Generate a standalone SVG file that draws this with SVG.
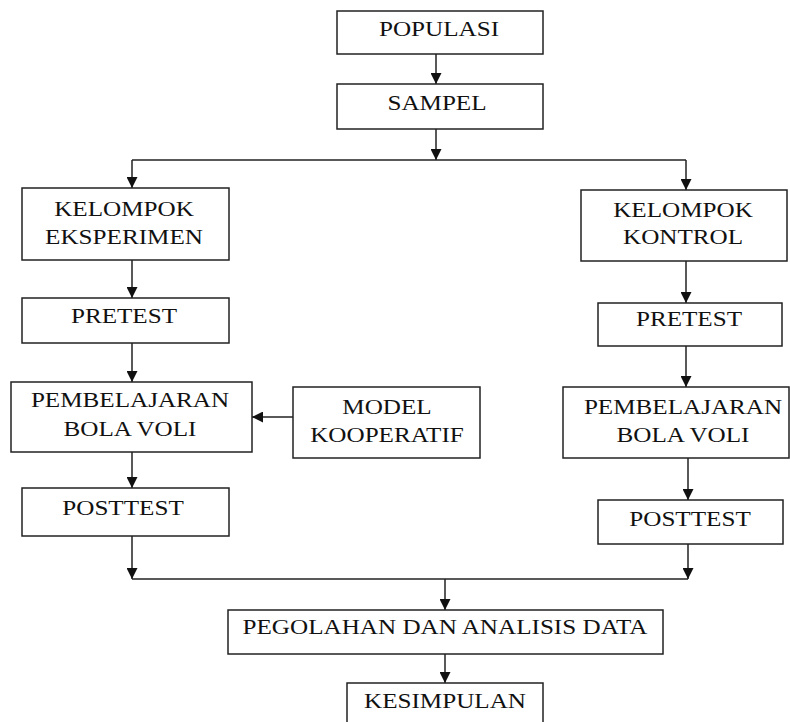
<svg xmlns="http://www.w3.org/2000/svg" width="790" height="722" viewBox="0 0 790 722">
<defs>
<marker id="ah" markerUnits="userSpaceOnUse" markerWidth="11" markerHeight="11" viewBox="0 0 10 10" refX="10" refY="5" orient="auto">
<path d="M0,0 L10,5 L0,10 z" fill="#111"/>
</marker>
<style>
.box{fill:#fff;stroke:#222;stroke-width:1.5}
.t{font-family:"Liberation Serif","Times New Roman",serif;font-size:21.5px;fill:#111;text-anchor:middle}
.c{fill:none;stroke:#222;stroke-width:1.5}
.a{fill:none;stroke:#222;stroke-width:1.5;marker-end:url(#ah)}
</style>
</defs>
<rect width="790" height="722" fill="#fff"/>
<g id="connectors">
<path class="a" d="M436 54 V84"/>
<path class="a" d="M436 129 V160"/>
<path class="c" d="M132 160 H686"/>
<path class="a" d="M132 160 V188"/>
<path class="a" d="M686 160 V190"/>
<path class="a" d="M132 260 V298"/>
<path class="a" d="M132 343 V382"/>
<path class="a" d="M293 417 H252"/>
<path class="a" d="M132 452 V488"/>
<path class="a" d="M132 536 V579"/>
<path class="a" d="M686 261 V303"/>
<path class="a" d="M686 346 V387"/>
<path class="a" d="M688 458 V500"/>
<path class="a" d="M688 544 V579"/>
<path class="c" d="M132 579 H688"/>
<path class="a" d="M445 579 V610"/>
<path class="a" d="M445 654 V683"/>
</g>
<g id="populasi">
<rect class="box" x="337" y="11" width="206" height="43"/>
<text class="t" transform="translate(439 36) scale(1.17 1)">POPULASI</text>
</g>
<g id="sampel">
<rect class="box" x="337" y="84" width="206" height="45"/>
<text class="t" transform="translate(437 110) scale(1.17 1)">SAMPEL</text>
</g>
<g id="kelompok-eksperimen">
<rect class="box" x="22" y="188" width="207" height="72"/>
<text class="t" transform="translate(124 216) scale(1.17 1)">KELOMPOK</text>
<text class="t" transform="translate(124 244) scale(1.17 1)">EKSPERIMEN</text>
</g>
<g id="pretest-eksperimen">
<rect class="box" x="22" y="298" width="207" height="45"/>
<text class="t" transform="translate(124 323) scale(1.17 1)">PRETEST</text>
</g>
<g id="pembelajaran-eksperimen">
<rect class="box" x="11" y="382" width="241" height="70"/>
<text class="t" transform="translate(130 407) scale(1.17 1)">PEMBELAJARAN</text>
<text class="t" transform="translate(130 436) scale(1.17 1)">BOLA VOLI</text>
</g>
<g id="model-kooperatif">
<rect class="box" x="293" y="387" width="187" height="71"/>
<text class="t" transform="translate(387 414) scale(1.17 1)">MODEL</text>
<text class="t" transform="translate(387 442) scale(1.17 1)">KOOPERATIF</text>
</g>
<g id="posttest-eksperimen">
<rect class="box" x="22" y="488" width="207" height="48"/>
<text class="t" transform="translate(123 515) scale(1.17 1)">POSTTEST</text>
</g>
<g id="kelompok-kontrol">
<rect class="box" x="581" y="190" width="206" height="71"/>
<text class="t" transform="translate(683 217) scale(1.17 1)">KELOMPOK</text>
<text class="t" transform="translate(683 244) scale(1.17 1)">KONTROL</text>
</g>
<g id="pretest-kontrol">
<rect class="box" x="598" y="303" width="184" height="43"/>
<text class="t" transform="translate(689 326) scale(1.17 1)">PRETEST</text>
</g>
<g id="pembelajaran-kontrol">
<rect class="box" x="563" y="387" width="226" height="71"/>
<text class="t" transform="translate(683 414) scale(1.17 1)">PEMBELAJARAN</text>
<text class="t" transform="translate(683 442) scale(1.17 1)">BOLA VOLI</text>
</g>
<g id="posttest-kontrol">
<rect class="box" x="598" y="500" width="185" height="44"/>
<text class="t" transform="translate(690 526) scale(1.17 1)">POSTTEST</text>
</g>
<g id="pengolahan">
<rect class="box" x="228" y="610" width="435" height="44"/>
<text class="t" transform="translate(445 634) scale(1.17 1)">PEGOLAHAN DAN ANALISIS DATA</text>
</g>
<g id="kesimpulan">
<rect class="box" x="347" y="683" width="196" height="50"/>
<text class="t" transform="translate(445 708) scale(1.17 1)">KESIMPULAN</text>
</g>
</svg>
